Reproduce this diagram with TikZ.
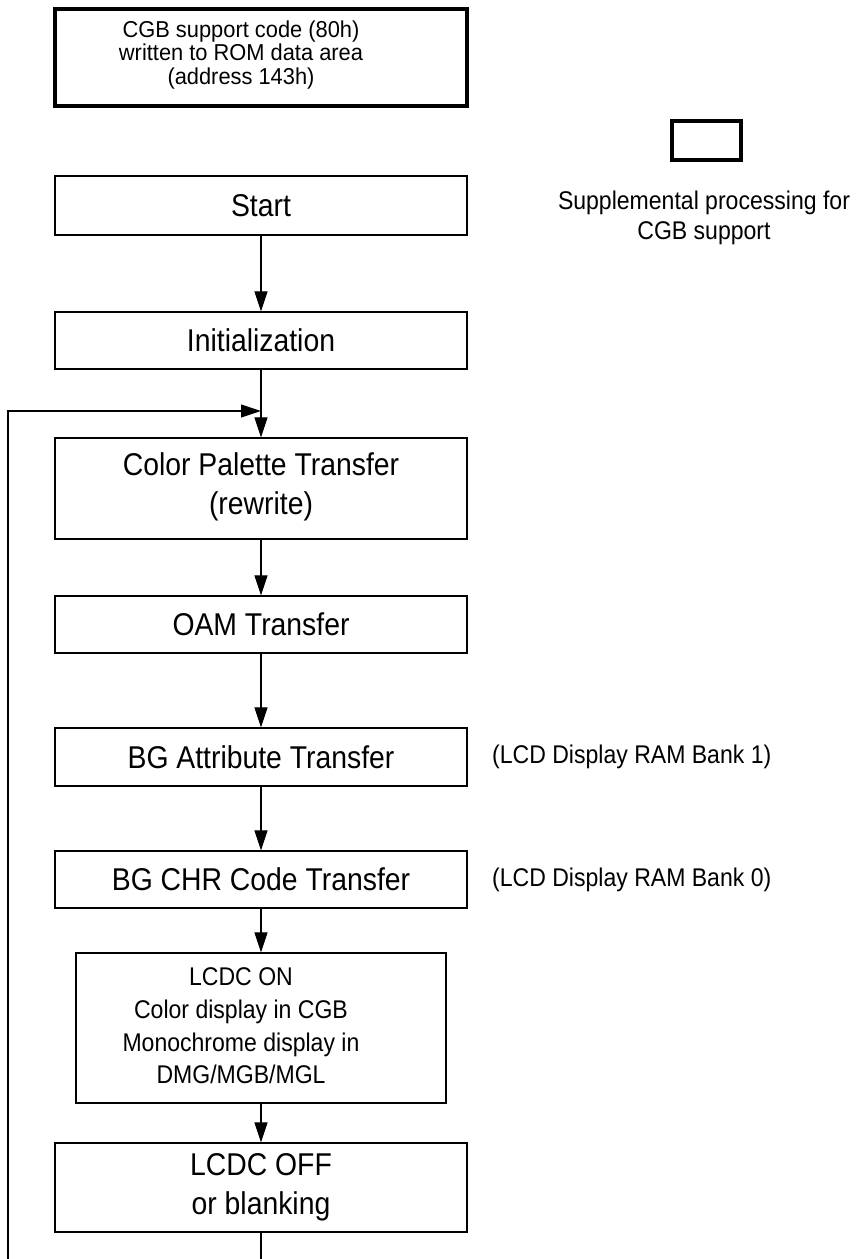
\documentclass[tikz,border=0pt]{standalone}
\usepackage{fontspec}
\setmainfont{Liberation Sans}
\newfontfamily\cf[FakeStretch=0.9]{Liberation Sans}
\newfontfamily\cff[FakeStretch=0.95]{Liberation Sans}
\usetikzlibrary{arrows.meta}
\tikzset{
  box/.style={draw, line width=1.2pt, inner sep=0pt, anchor=center, minimum width=412pt},
  thickbox/.style={draw, line width=4pt, inner sep=0pt, anchor=center},
  big/.style={font=\cf\fontsize{31.5}{39}\selectfont, align=center, inner sep=0pt},
  mid/.style={font=\cf\fontsize{25.6}{32.7}\selectfont, align=center, inner sep=0pt},
  small/.style={font=\cff\fontsize{23}{23.5}\selectfont, align=center, inner sep=0pt},
  side/.style={font=\cf\fontsize{25.6}{28}\selectfont, anchor=west, inner sep=0pt},
  conn/.style={line width=1.1pt, -{Triangle[length=20pt,width=13pt]}},
  plain/.style={line width=1.1pt}
}
\begin{document}
\begin{tikzpicture}[x=1pt,y=-1pt]
\useasboundingbox (0,0) rectangle (859,1259);
% top thick box
\node[thickbox, minimum width=412pt, minimum height=97pt] (top) at (261,57.5) {};
\node[small] (toptxt) at (241,55) {CGB support code (80h)\\written to ROM data area\\(address 143h)};
% legend
\node[thickbox, minimum width=69pt, minimum height=39pt] (leg) at (706.5,140.5) {};
\node[font=\cf\fontsize{25.6}{30}\selectfont, align=center, inner sep=0pt] (legtxt) at (704,218) {Supplemental processing for\\CGB support};
% main boxes
\node[box, minimum height=59pt] (start) at (261,205.5) {};
\node[big] at (start) {Start};
\node[box, minimum height=57pt] (init) at (261,340.5) {};
\node[big] at (init) {Initialization};
\node[box, minimum height=101pt] (cpt) at (261,488.5) {};
\node[big] at (261,487) {Color Palette Transfer\\(rewrite)};
\node[box, minimum height=57pt] (oam) at (261,624.5) {};
\node[big] at (oam) {OAM Transfer};
\node[box, minimum height=58pt] (bga) at (261,757) {};
\node[big] at (bga) {BG Attribute Transfer};
\node[box, minimum height=57pt] (bgc) at (261,879.5) {};
\node[big] at (bgc) {BG CHR Code Transfer};
\node[box, minimum width=370pt, minimum height=150pt] (lon) at (261,1028) {};
\node[mid] at (241,1026) {LCDC ON\\Color display in CGB\\Monochrome display in\\DMG/MGB/MGL};
\node[box, minimum height=89pt] (loff) at (261,1187.5) {};
\node[big] at (261,1187) {LCDC OFF\\or blanking};
% annotations
\node[side] (ann1) at (492,757) {(LCD Display RAM Bank 1)};
\node[side] (ann0) at (492,879.5) {(LCD Display RAM Bank 0)};
% connectors
\coordinate (bot) at (261,1259);
\coordinate (loopbot) at (8,1259);
\coordinate (loopcorner) at (8,411);
\coordinate (join) at (261,411);
\draw[conn] (start.south) -- (init.north);
\draw[conn] (init.south) -- (cpt.north);
\draw[conn] (loopbot) -- (loopcorner) -- (join);
\draw[conn] (cpt.south) -- (oam.north);
\draw[conn] (oam.south) -- (bga.north);
\draw[conn] (bga.south) -- (bgc.north);
\draw[conn] (bgc.south) -- (lon.north);
\draw[conn] (lon.south) -- (loff.north);
\draw[plain] (loff.south) -- (bot);
\end{tikzpicture}
\end{document}
